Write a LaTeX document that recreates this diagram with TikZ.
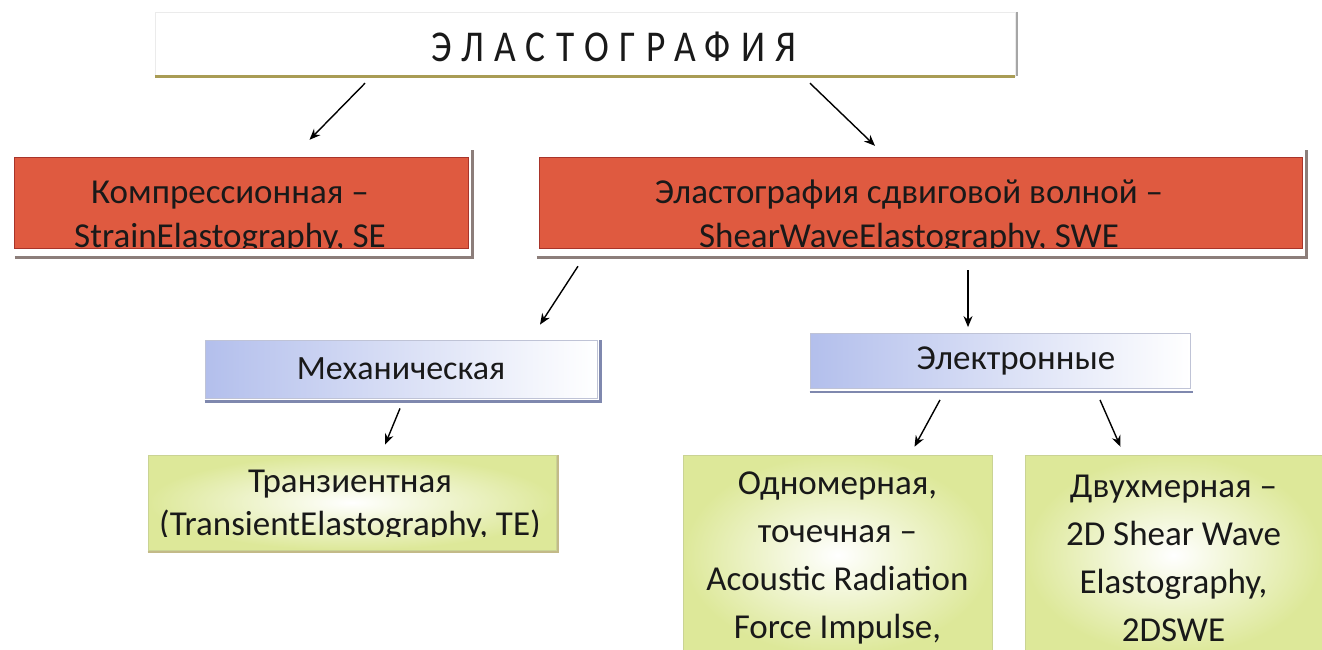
\documentclass[tikz,border=0pt]{standalone}
\usepackage{fontspec}
\setmainfont{Carlito}
\newfontfamily\titlefont[LetterSpace=24,FakeStretch=0.85]{Carlito}
\usetikzlibrary{arrows.meta,calc}
\definecolor{redfill}{HTML}{DF5A40}
\definecolor{redline}{HTML}{A8342A}
\definecolor{shadowc}{HTML}{8C7E7A}
\definecolor{bluefill}{HTML}{B3BFEC}
\definecolor{blueline}{HTML}{7F88AE}
\definecolor{yelfill}{HTML}{DDE899}
\definecolor{gold}{HTML}{A99C55}
\begin{document}
\begin{tikzpicture}[x=1pt,y=-1pt,
  arr/.style={-{Stealth[length=11pt,width=9pt]},line width=1.4pt,black},
  redbox/.style={fill=redfill,minimum height=90pt,inner sep=0pt},
  redtxt/.style={anchor=base,font=\fontsize{35}{44}\selectfont,text=black!90,inner sep=0pt},
  bluebox/.style={draw=blueline!50,line width=0.8pt,left color=bluefill,right color=white,
     font=\fontsize{34}{37}\selectfont,text=black!90,inner sep=0pt},
  yelbox/.style={inner color=white,outer color=yelfill,draw=yelfill!80!gray,line width=0.6pt,inner sep=0pt},
  yeltxt/.style={align=center,font=\fontsize{35}{48}\selectfont,text=black!90},
  shad/.style={shadowc,line width=3pt}]
\useasboundingbox (0,0) rectangle (1322,649);
\fill[white] (0,0) rectangle (1322,649);

% title
\node[draw=black!8,fill=white,minimum width=860pt,minimum height=64pt,inner sep=0pt] (top) at (585,44) {};
\node[font=\titlefont\fontsize{44}{48}\selectfont,text=black!90] (toptxt) at (614,47) {ЭЛАСТОГРАФИЯ};
\draw[gold,line width=3pt] (top.south west) -- (top.south east);
\draw[black!35,line width=1.5pt] ([xshift=2pt]top.north east) -- ([xshift=2pt]top.south east);

% red boxes
\node[redbox,minimum width=453pt] (red1) at (241.5,203) {};
\begin{scope}
\clip (red1.south west) rectangle (red1.north east);
\node[redtxt] (red1a) at (230,203) {Компрессионная –};
\node[redtxt] (red1b) at (230,247) {StrainElastography, SE};
\end{scope}
\draw[redline,line width=1pt] (red1.south west) rectangle (red1.north east);
\draw[shad] ([shift={(0,9)}]red1.south west) -- ([shift={(4,9)}]red1.south east) -- ([shift={(4,-8)}]red1.north east);

\node[redbox,minimum width=762pt] (red2) at (921,203) {};
\begin{scope}
\clip (red2.south west) rectangle (red2.north east);
\node[redtxt] (red2a) at (909,203) {Эластография сдвиговой волной –};
\node[redtxt] (red2b) at (909,247) {ShearWaveElastography, SWE};
\end{scope}
\draw[redline,line width=1pt] (red2.south west) rectangle (red2.north east);
\draw[shad] ([shift={(-3,9)}]red2.south west) -- ([shift={(4,9)}]red2.south east) -- ([shift={(4,-8)}]red2.north east);

% blue boxes
\node[bluebox,minimum width=392pt,minimum height=58pt] (blue1) at (401,369) {Механическая};
\draw[blueline,line width=2.5pt] ([shift={(0,3)}]blue1.south west) -- ([shift={(3,3)}]blue1.south east) -- ([shift={(3,0)}]blue1.north east);
\node[bluebox,minimum width=380pt,minimum height=55pt] (blue2) at (1000,361) {};
\node[font=\fontsize{35}{37}\selectfont,text=black!90] (blue2txt) at (1016,361) {Электронные};
\draw[blueline,line width=2.5pt] ([shift={(0,3)}]blue2.south west) -- ([shift={(3,3)}]blue2.south east);

% yellow boxes
\node[yelbox,minimum width=408pt,minimum height=95pt] (yel1) at (352,502.5) {};
\begin{scope}
\clip (148,455) rectangle (556,536.5);
\node[redtxt] (yel1a) at (350,492) {Транзиентная};
\node[redtxt] (yel1b) at (350,535) {(TransientElastography, TE)};
\end{scope}
\draw[gold!70,line width=2pt] ([shift={(0,2)}]yel1.south west) -- ([shift={(2,2)}]yel1.south east) -- ([shift={(2,0)}]yel1.north east);
\node[yelbox,minimum width=309pt,minimum height=200pt] (yel2) at (837.5,555) {};
\node[yeltxt] (yel2txt) at (837.5,558) {Одномерная,\\точечная –\\Acoustic Radiation\\Force Impulse,};
\node[yelbox,minimum width=297pt,minimum height=200pt] (yel3) at (1173.5,555) {};
\node[yeltxt] (yel3txt) at (1173.5,558) {Двухмерная –\\2D Shear Wave\\Elastography,\\2DSWE};

% arrows
\draw[arr] ([shift={(-220,7)}]top.south) -- ([shift={(68,-18)}]red1.north);
\draw[arr] ([shift={(225,7)}]top.south) -- ([shift={(-46,-12)}]red2.north);
\draw[arr] ([shift={(-343,18)}]red2.south) -- ([shift={(139,-15)}]blue1.north);
\draw[arr] ([shift={(47,22)}]red2.south) -- ([shift={(-32,-6)}]blue2.north);
\draw[arr] ([shift={(-1,10)}]blue1.south) -- ([shift={(33,-10)}]yel1.north);
\draw[arr] ([shift={(-60,11)}]blue2.south) -- ([shift={(77,-8)}]yel2.north);
\draw[arr] ([shift={(100,11)}]blue2.south) -- ([shift={(-53,-8)}]yel3.north);
\end{tikzpicture}
\end{document}
